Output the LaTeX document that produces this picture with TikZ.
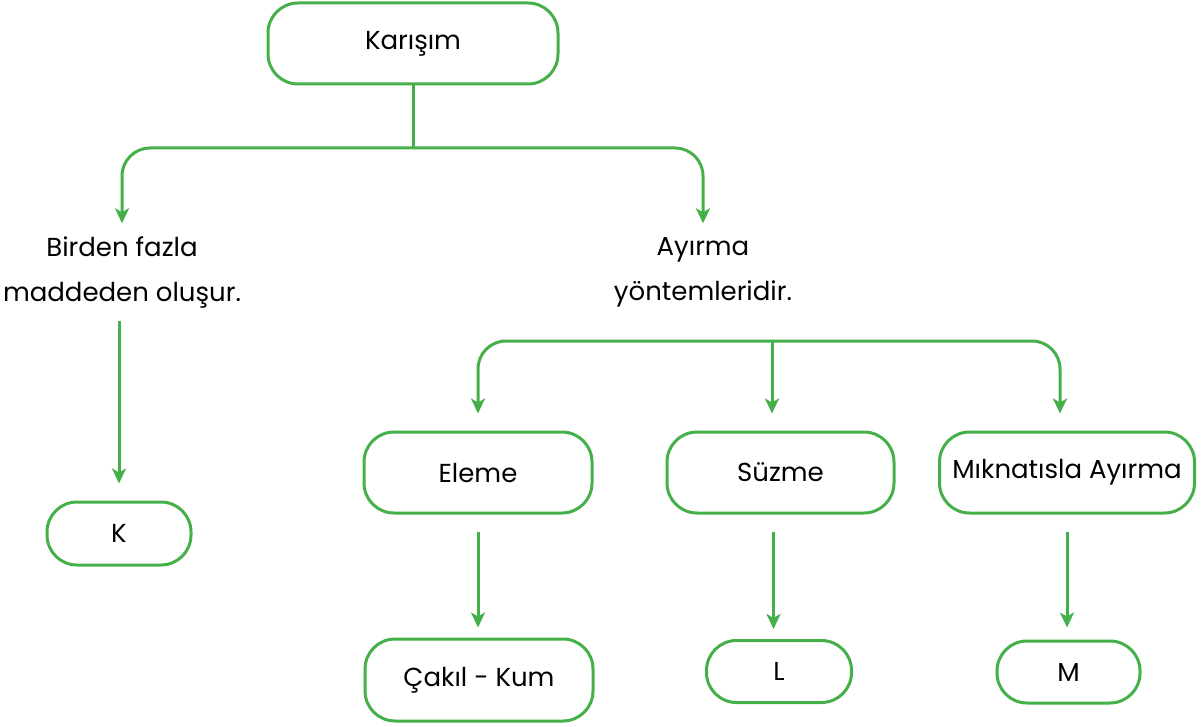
\documentclass[tikz,border=0pt]{standalone}
\usepackage{fontspec}
\setmainfont{Poppins}
\usetikzlibrary{arrows.meta,positioning}

\begin{document}
\begin{tikzpicture}[x=1pt,y=-1pt,
 kutu/.style={draw=yesilkutu,line width=3pt,rounded corners=30pt,align=center},
 yazi/.style={align=center,inner sep=0pt},
 ok/.style={draw=yesilkutu,line width=3pt,-{Stealth[length=15pt,width=14pt,inset=4pt]}},
 cizgi/.style={draw=yesilkutu,line width=3pt}]

\definecolor{yesilkutu}{rgb}{0.27,0.69,0.29}
\fontsize{26}{45}\selectfont

\useasboundingbox (0,0) rectangle (1201,727);

\node[kutu,minimum width=290pt,minimum height=81pt] (karisim) at (413,43.5) {Karışım};

\node[yazi,minimum height=97pt] (birden) at (122,272) {Birden fazla\\maddeden oluşur.};
\node[yazi,minimum height=97pt] (ayirma) at (703,272) {Ayırma\\yöntemleridir.};

\node[kutu,minimum width=144pt,minimum height=63pt] (kkutu) at (119,533.5) {K};

\node[kutu,minimum width=228pt,minimum height=81pt] (eleme) at (478,472.5) {Eleme};
\node[kutu,minimum width=227pt,minimum height=81pt] (suzme) at (780.5,472.5) {Süzme};
\node[kutu,minimum width=255pt,minimum height=81pt] (miknatis) at (1067,472.5) {Mıknatısla Ayırma};

\node[kutu,minimum width=228pt,minimum height=82pt] (cakil) at (479,680) {Çakıl - Kum};
\node[kutu,minimum width=145pt,minimum height=62pt] (lkutu) at (779,671.5) {L};
\node[kutu,minimum width=143pt,minimum height=62pt] (mkutu) at (1068.5,672) {M};

% ust catal
\coordinate (catal) at (413,148);
\draw[cizgi] (karisim.south) -- (catal);
\draw[ok,rounded corners=28pt] (catal) -| (birden.north);
\draw[ok,rounded corners=28pt] (catal) -| (ayirma.north);

\draw[ok,shorten >=17pt] (birden.south -| kkutu.north) -- (kkutu.north);

% ayirma yontemleri
\coordinate (cubuk) at (772,341);
\draw[ok,rounded corners=28pt,shorten >=17pt] (cubuk) -| (eleme.north);
\draw[ok,shorten >=17pt] (cubuk) -- (cubuk |- suzme.north);
\draw[ok,rounded corners=28pt,shorten >=17pt] (cubuk) -| ([xshift=-7pt]miknatis.north);

\draw[ok,shorten <=17pt,shorten >=10pt] (eleme.south) -- (eleme.south |- cakil.north);
\draw[ok,shorten <=17pt,shorten >=10pt] ([xshift=-7pt]suzme.south) -- ([xshift=-7pt]suzme.south |- lkutu.north);
\draw[ok,shorten <=17pt,shorten >=12pt] (miknatis.south) -- (miknatis.south |- mkutu.north);

\end{tikzpicture}
\end{document}
